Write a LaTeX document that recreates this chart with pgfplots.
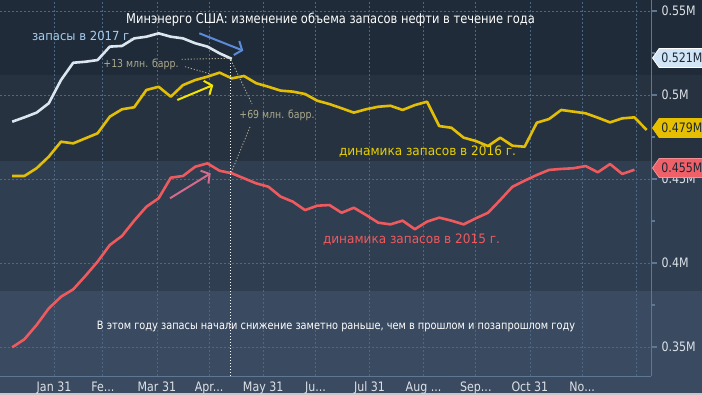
\documentclass[border=0pt]{standalone}
\usepackage{pgfplots}
\pgfplotsset{compat=1.18}
\usepackage{pgfplotstable}
\usepackage{fontspec}
\setmainfont{DejaVu Sans}[FakeStretch=0.85]
\newfontfamily\wideF{DejaVu Sans}[FakeStretch=0.93]
\usetikzlibrary{arrows.meta,shapes.symbols}
\definecolor{bgA}{HTML}{1F2B38}
\definecolor{bgB}{HTML}{263240}
\definecolor{bgC}{HTML}{303E51}
\definecolor{bgD}{HTML}{3A4A60}
\definecolor{gridc}{HTML}{4B6886}
\definecolor{axc}{HTML}{5E7894}
\definecolor{tickc}{HTML}{DDE2E8}
\definecolor{c17}{HTML}{DCE6F0}
\definecolor{c16}{HTML}{E3BE06}
\definecolor{c15}{HTML}{EE5A5E}
\definecolor{lab17}{HTML}{A6CFF2}
\definecolor{lab16}{HTML}{E8D000}
\definecolor{khaki}{HTML}{ACAA8C}
\definecolor{arrB}{HTML}{5B8BDA}
\definecolor{arrY}{HTML}{F2E600}
\definecolor{arrP}{HTML}{D46A8C}
\definecolor{tag17}{HTML}{D2E5F6}
\definecolor{tag16}{HTML}{E6C000}
\definecolor{tag15}{HTML}{F06068}
\definecolor{tagtxt}{HTML}{1B2836}
\newcommand{\dd}{{.}{.}{.}}

\pgfplotstableread{
v
0.4841
0.4867
0.4895
0.4951
0.5089
0.5192
0.5198
0.5208
0.5288
0.5292
0.5337
0.5347
0.5367
0.5347
0.5337
0.5308
0.5288
0.5248
0.5215
}\dataA

\pgfplotstableread{
v
0.4518
0.4518
0.4564
0.4633
0.4722
0.4712
0.4742
0.4772
0.4871
0.4915
0.4927
0.5030
0.5049
0.4990
0.5059
0.5089
0.5109
0.5133
0.5099
0.5113
0.5070
0.5049
0.5026
0.5020
0.5006
0.4966
0.4946
0.4921
0.4895
0.4915
0.4930
0.4936
0.4911
0.4940
0.4960
0.4815
0.4805
0.4746
0.4726
0.4696
0.4746
0.4698
0.4692
0.4835
0.4857
0.4911
0.4901
0.4891
0.4865
0.4837
0.4861
0.4867
0.4792
}\dataB

\pgfplotstableread{
v
0.3498
0.3546
0.3631
0.3730
0.3799
0.3843
0.3923
0.4008
0.4107
0.4161
0.4252
0.4335
0.4385
0.4508
0.4518
0.4573
0.4593
0.4549
0.4534
0.4504
0.4474
0.4454
0.4395
0.4365
0.4315
0.4341
0.4345
0.4299
0.4329
0.4286
0.4240
0.4230
0.4252
0.4201
0.4246
0.4270
0.4252
0.4230
0.4266
0.4299
0.4375
0.4454
0.4490
0.4524
0.4554
0.4560
0.4564
0.4577
0.4540
0.4589
0.4530
0.4555
}\dataC

\begin{document}
\begin{tikzpicture}
\useasboundingbox (0pt,-19pt) rectangle (702pt,376pt);
\fill[bgA] (0pt,301pt) rectangle (702pt,376pt);
\fill[bgB] (0pt,215pt) rectangle (702pt,301pt);
\fill[bgC] (0pt,85pt) rectangle (702pt,215pt);
\fill[bgD] (0pt,-19pt) rectangle (702pt,85pt);
\fill[black!22] (0pt,-19pt) rectangle (702pt,-17.4pt);
\begin{axis}[
  at={(0pt,0pt)}, anchor=south west,
  scale only axis, width=651pt, height=376pt,
  xmin=0, xmax=373.5, ymin=0.33274, ymax=0.55655,
  axis x line*=bottom, axis y line*=right,
  axis line style={-, draw=axc, line width=0.8pt},
  xtick={31,59,90,120,151,181,212,243,273,304,334,365},
  xticklabels={{Jan 31},{Fe\dd},{Mar 31},{Apr\dd},{May 31},{Ju\dd},{Jul 31},{Aug \dd},{Sep\dd},{Oct 31},{No\dd},{}},
  ytick={0.35,0.4,0.45,0.5,0.55},
  yticklabels={0.35M,0.4M,0.45M,0.5M,0.55M},
  minor ytick={0.375,0.425,0.475,0.525},
  grid=major,
  major grid style={draw=gridc, dash pattern=on 2pt off 2pt, line width=0.7pt},
  tick align=outside,
  xtick style={draw=none},
  ytick style={draw=axc, line width=1.6pt},
  major tick length=6pt, minor tick length=4pt,
  tick label style={text=tickc, font=\fontsize{13}{13}\selectfont},
  xticklabel style={anchor=base, yshift=-9.5pt},
  yticklabel style={xshift=1pt},
  clip=false,
]
\addplot[c15, line width=2.6pt, line join=round] table[x expr=7*\coordindex+7, y=v] {\dataC};
\addplot[c16, line width=2.6pt, line join=round] table[x expr=7*\coordindex+7, y=v] {\dataB};
\addplot[c17, line width=2.6pt, line join=round] table[x expr=7*\coordindex+7, y=v] {\dataA};
\end{axis}
% annotations (1pt = 1px, y measured from bottom of plot area)
\draw[white, line width=1.1pt, dash pattern=on 1.5pt off 1.5pt] (230.5pt,316pt) -- (230.5pt,0pt);
\draw[khaki, line width=0.9pt, dash pattern=on 1.2pt off 1.8pt] (181.7pt,316.7pt) -- (230pt,317.7pt);
\draw[khaki, line width=0.9pt, dash pattern=on 1.2pt off 1.8pt] (185pt,309.3pt) -- (214pt,301pt);
\draw[khaki, line width=0.9pt, dash pattern=on 1.2pt off 1.8pt] (231pt,316pt) -- (252pt,272pt);
\draw[khaki, line width=0.9pt, dash pattern=on 1.2pt off 1.8pt] (250pt,249pt) -- (231pt,203pt);
\draw[arrB, line width=2pt, -{Straight Barb[length=6pt,width=15pt]}] (199.3pt,342.7pt) -- (243.3pt,325.3pt);
\draw[arrY, line width=2pt, -{Straight Barb[length=6pt,width=15pt]}] (177.3pt,276pt) -- (213.3pt,291pt);
\draw[arrP, line width=2pt, -{Straight Barb[length=6pt,width=15pt]}] (170pt,177.7pt) -- (210.7pt,202.7pt);
\node[text=white, font=\fontsize{13.5}{14}\selectfont] at (330.5pt,356pt) {Минэнерго США: изменение объема запасов нефти в течение года};
\node[text=lab17, font=\wideF\fontsize{12.5}{13}\selectfont] at (82.5pt,340pt) {запасы в 2017 г.};
\node[text=khaki, font=\fontsize{11}{12}\selectfont] at (141pt,312pt) {+13 млн. барр.};
\node[text=khaki, font=\fontsize{11}{12}\selectfont] at (277pt,261pt) {+69 млн. барр.};
\node[text=lab16, font=\wideF\fontsize{13}{14}\selectfont] at (427.5pt,224pt) {динамика запасов в 2016 г.};
\node[text=c15, font=\wideF\fontsize{13}{14}\selectfont] at (411.5pt,136pt) {динамика запасов в 2015 г.};
\node[text=white, font=\fontsize{11.5}{13}\selectfont] at (336pt,49pt) {В этом году запасы начали снижение заметно раньше, чем в прошлом и позапрошлом году};
% value tags
\node[signal, signal to=west, signal pointer angle=110, fill=tag17, draw=white, line width=0.8pt, text=tagtxt, inner sep=2.2pt, minimum height=19pt, anchor=west, font=\fontsize{13}{13}\selectfont] at (652pt,318pt) {0.521M};
\node[signal, signal to=west, signal pointer angle=110, fill=tag16, draw=tag16, line width=0.8pt, text=tagtxt, inner sep=2.2pt, minimum height=19pt, anchor=west, font=\fontsize{13}{13}\selectfont] at (652pt,248pt) {0.479M};
\node[signal, signal to=west, signal pointer angle=110, fill=tag15, draw=tag15!70!white, line width=0.8pt, text=tagtxt, inner sep=2.2pt, minimum height=19pt, anchor=west, font=\fontsize{13}{13}\selectfont] at (652pt,208pt) {0.455M};
\end{tikzpicture}
\end{document}
